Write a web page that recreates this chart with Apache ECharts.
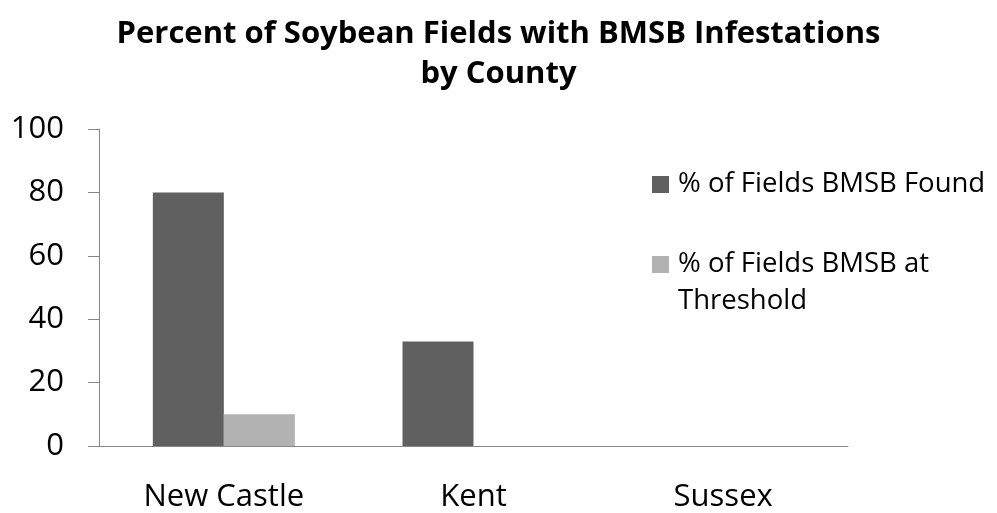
<!DOCTYPE html>
<html><head><meta charset="utf-8">
<script src="https://cdn.jsdelivr.net/npm/echarts@6/dist/echarts.min.js"></script>
<style>html,body{margin:0;padding:0;background:#fff}#c{width:997px;height:513px}</style>
</head><body><div id="c"></div>
<script>
const titleText = 'Percent of Soybean Fields with BMSB Infestations\nby County';
const categories = ['New Castle', 'Kent', 'Sussex'];
const seriesNames = ['% of Fields BMSB Found', '% of Fields BMSB at\nThreshold'];
const foundValues = [80, 33, 0];
const thresholdValues = [10, 0, 0];
const yTicks = [0, 20, 40, 60, 80, 100];

const FONT = '"Open Sans", sans-serif';
const ICON = 'path://M0,0L10,0L10,10L0,10Z';
const chart = echarts.init(document.getElementById('c'), null, {renderer: 'canvas'});
chart.setOption({
  animation: false,
  backgroundColor: '#fff',
  title: {
    text: titleText, left: 'center', top: 14, padding: 0,
    textStyle: {fontFamily: FONT, fontWeight: 'bold', fontSize: 31, lineHeight: 40, color: '#000'}
  },
  legend: [{
    data: [seriesNames[0]], orient: 'vertical', left: 652, top: 166, padding: 0,
    icon: ICON, itemWidth: 25, itemHeight: 17,
    textStyle: {fontFamily: FONT, fontSize: 27.5, lineHeight: 37, color: '#000'}
  }, {
    data: [seriesNames[1]], orient: 'vertical', left: 652, top: 209, padding: 0,
    icon: ICON, itemWidth: 25, itemHeight: 17,
    formatter: function (n) { return '\n' + n; },
    textStyle: {fontFamily: FONT, fontSize: 27.5, lineHeight: 37, color: '#000'}
  }],
  grid: {left: 99, right: 149, top: 129, bottom: 63, containLabel: false},
  xAxis: {
    type: 'category', data: categories,
    axisLine: {lineStyle: {color: '#868686', width: 1}},
    axisTick: {show: false},
    axisLabel: {fontFamily: FONT, fontSize: 31, color: '#000', margin: 36}
  },
  yAxis: {
    type: 'value', min: yTicks[0], max: yTicks[yTicks.length - 1], interval: 20,
    splitLine: {show: false},
    axisLine: {show: true, lineStyle: {color: '#868686', width: 1}},
    axisTick: {show: true, length: 11, lineStyle: {color: '#868686'}},
    axisLabel: {fontFamily: FONT, fontSize: 31, color: '#000', margin: 35}
  },
  series: [
    {name: seriesNames[0], type: 'bar', data: foundValues, barWidth: 71, barGap: '0%',
     itemStyle: {color: '#606060'}},
    {name: seriesNames[1], type: 'bar', data: thresholdValues, barWidth: 71, barGap: '0%',
     itemStyle: {color: '#b2b2b2'}}
  ]
});
</script></body></html>
